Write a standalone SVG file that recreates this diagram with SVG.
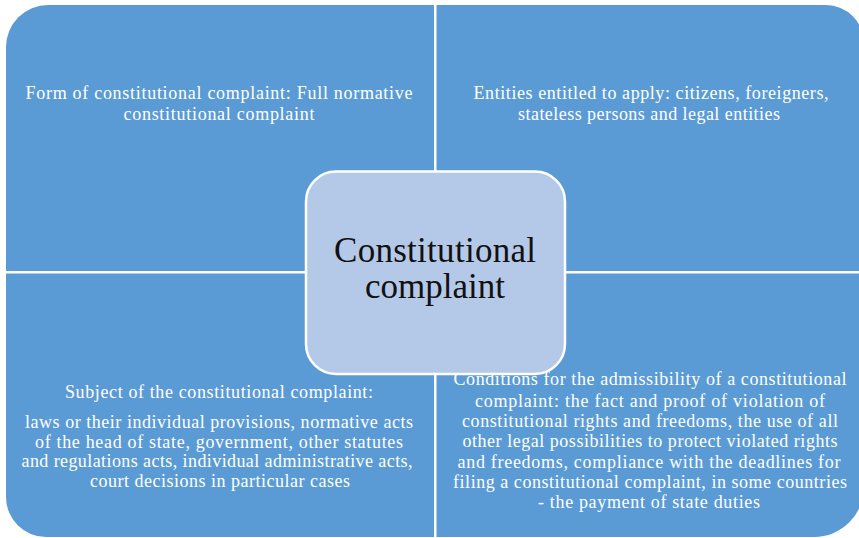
<svg xmlns="http://www.w3.org/2000/svg" width="859" height="538" viewBox="0 0 859 538">
<style>
.q{fill:#5B9BD5;}
.t{font-family:"Liberation Serif","Times New Roman",serif;font-size:18px;fill:#FFFFFF;text-anchor:middle;}
.c{font-family:"Liberation Serif","Times New Roman",serif;font-size:35px;fill:#111111;text-anchor:middle;}
</style>
<rect width="859" height="538" fill="#FFFFFF"/>
<g id="q-top-left">
<path class="q" d="M6,47 A42,42 0 0 1 48,5 L434,5 L434,271 L6,271 Z"/>
<text class="t" x="219" y="99" textLength="387" lengthAdjust="spacing">Form of constitutional complaint: Full normative</text>
<text class="t" x="219" y="120" textLength="191" lengthAdjust="spacing">constitutional complaint</text>
</g>
<g id="q-top-right">
<path class="q" d="M436.5,5 L826,5 A38,38 0 0 1 864,43 L864,271 L436.5,271 Z"/>
<text class="t" x="651" y="99" textLength="355" lengthAdjust="spacing">Entities entitled to apply: citizens, foreigners,</text>
<text class="t" x="649" y="120" textLength="262" lengthAdjust="spacing">stateless persons and legal entities</text>
</g>
<g id="q-bottom-left">
<path class="q" d="M6,273.5 L434,273.5 L434,537 L46,537 A40,40 0 0 1 6,497 Z"/>
<text class="t" x="219" y="398" textLength="308" lengthAdjust="spacing">Subject of the constitutional complaint:</text>
<text class="t" x="219" y="428" textLength="388" lengthAdjust="spacing">laws or their individual provisions, normative acts</text>
<text class="t" x="219" y="447.5" textLength="368" lengthAdjust="spacing">of the head of state, government, other statutes</text>
<text class="t" x="217" y="467" textLength="391" lengthAdjust="spacing">and regulations acts, individual administrative acts,</text>
<text class="t" x="220" y="487" textLength="260" lengthAdjust="spacing">court decisions in particular cases</text>
</g>
<g id="q-bottom-right">
<path class="q" d="M436.5,273.5 L864,273.5 L864,487 A50,50 0 0 1 814,537 L436.5,537 Z"/>
<text class="t" x="650" y="385" textLength="393" lengthAdjust="spacing">Conditions for the admissibility of a constitutional</text>
<text class="t" x="650" y="407" textLength="350" lengthAdjust="spacing">complaint: the fact and proof of violation of</text>
<text class="t" x="650" y="427" textLength="376" lengthAdjust="spacing">constitutional rights and freedoms, the use of all</text>
<text class="t" x="650" y="447" textLength="375" lengthAdjust="spacing">other legal possibilities to protect violated rights</text>
<text class="t" x="649" y="467.5" textLength="383" lengthAdjust="spacing">and freedoms, compliance with the deadlines for</text>
<text class="t" x="650" y="488" textLength="394" lengthAdjust="spacing">filing a constitutional complaint, in some countries</text>
<text class="t" x="649" y="508" textLength="222" lengthAdjust="spacing">- the payment of state duties</text>
</g>
<g id="connectors"></g>
<g id="center">
<rect x="306" y="171.5" width="259" height="202.5" rx="30" ry="30" fill="#B4C8E8" stroke="#FFFFFF" stroke-width="2.5"/>
<text class="c" x="435" y="262" textLength="202" lengthAdjust="spacing">Constitutional</text>
<text class="c" x="435" y="298">complaint</text>
</g>
</svg>
